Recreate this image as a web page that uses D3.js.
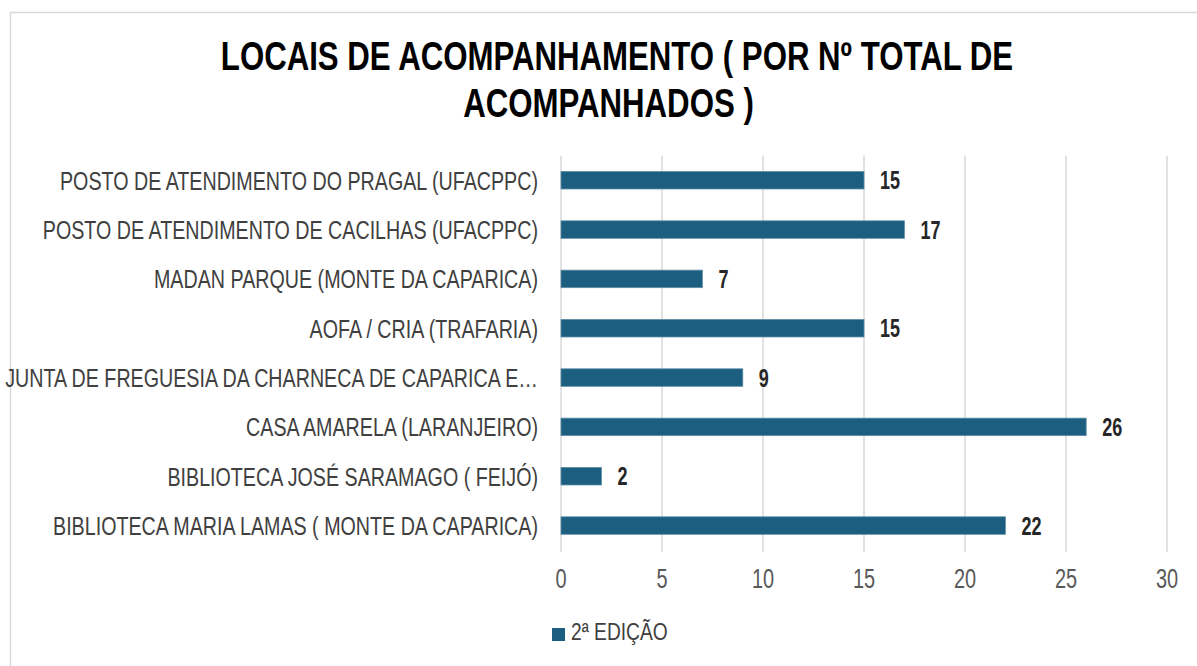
<!DOCTYPE html>
<html>
<head>
<meta charset="utf-8">
<script src="https://cdn.jsdelivr.net/npm/d3@7"></script>
<style>
  html, body { margin: 0; padding: 0; background: #fff; }
  svg { display: block; font-family: "Liberation Sans", Arial, sans-serif; }
</style>
</head>
<body>
<div id="chart"></div>
<script>

// DATA
var categories = [
    "POSTO DE ATENDIMENTO DO PRAGAL (UFACPPC)",
    "POSTO DE ATENDIMENTO DE CACILHAS (UFACPPC)",
    "MADAN PARQUE (MONTE DA CAPARICA)",
    "AOFA / CRIA (TRAFARIA)",
    "JUNTA DE FREGUESIA DA CHARNECA DE CAPARICA E…",
    "CASA AMARELA (LARANJEIRO)",
    "BIBLIOTECA JOSÉ SARAMAGO ( FEIJÓ)",
    "BIBLIOTECA MARIA LAMAS ( MONTE DA CAPARICA)"
];
var values = [15, 17, 7, 15, 9, 26, 2, 22];
var xTicks = [0, 5, 10, 15, 20, 25, 30];
var titleLines = ["LOCAIS DE ACOMPANHAMENTO ( POR Nº TOTAL DE", "ACOMPANHADOS )"];
var seriesName = "2ª EDIÇÃO";

// SIZES
var width = 1197, height = 666;
var plot = {left: 561, right: 1167, top: 155.7, bottom: 550.1};
var barColor = "#1b5e80";
var titleX = [617, 608.5];

var svg = d3.select("#chart").append("svg")
    .attr("width", width)
    .attr("height", height);

// chart frame (runs off the right and bottom edge)
svg.append("rect")
    .attr("x", 10.5).attr("y", 12.5)
    .attr("width", width + 20).attr("height", height + 20)
    .attr("fill", "#fff")
    .attr("stroke", "#d9d9d9")
    .attr("stroke-width", 1.5);

// condensed text: Arial Narrow look by squeezing horizontally
function squeeze(sel, x, y, sx) {
    sel.attr("transform", "translate(" + x + "," + y + ") scale(" + sx + ",1)");
}

/* TITLE */
titleLines.forEach(function(t, i) {
    svg.append("text")
        .attr("text-anchor", "middle")
        .attr("font-size", 40)
        .attr("font-weight", "bold")
        .attr("fill", "#000")
        .text(t)
        .call(squeeze, titleX[i], 70 + i * 47, 0.78);
});

var x = d3.scaleLinear().domain([0, 30]).range([plot.left, plot.right]);
var y = d3.scaleBand().domain(categories)
    .range([plot.top, plot.bottom])
    .paddingInner(0.645)
    .paddingOuter(0.32);

/* GRID */
svg.append("g").selectAll("line")
    .data(xTicks)
    .enter().append("line")
    .attr("x1", function(d) { return x(d); })
    .attr("x2", function(d) { return x(d); })
    .attr("y1", plot.top)
    .attr("y2", plot.bottom + 2)
    .attr("stroke", "#d9d9d9")
    .attr("stroke-width", 1.5);

/* X AXIS LABELS */
svg.append("g").selectAll("text")
    .data(xTicks)
    .enter().append("text")
    .attr("text-anchor", "middle")
    .attr("font-size", 27)
    .attr("fill", "#595959")
    .text(function(d) { return d; })
    .each(function(d) { d3.select(this).call(squeeze, x(d), 588, 0.74); });

/* CATEGORY LABELS */
svg.append("g").selectAll("text")
    .data(categories)
    .enter().append("text")
    .attr("text-anchor", "end")
    .attr("font-size", 26)
    .attr("fill", "#404040")
    .text(function(d) { return d; })
    .each(function(d) { d3.select(this).call(squeeze, 538, y(d) + y.bandwidth() / 2 + 9.5, 0.757); });

/* BARS */
svg.append("g").selectAll("rect")
    .data(values)
    .enter().append("rect")
    .attr("x", x(0))
    .attr("y", function(d, i) { return y(categories[i]); })
    .attr("width", function(d) { return x(d) - x(0); })
    .attr("height", y.bandwidth())
    .attr("fill", barColor)
    .attr("stroke", "#5f8ea6")
    .attr("stroke-width", 0.8);

/* VALUE LABELS */
svg.append("g").selectAll("text")
    .data(values)
    .enter().append("text")
    .attr("text-anchor", "start")
    .attr("font-size", 25)
    .attr("font-weight", "bold")
    .attr("fill", "#262626")
    .text(function(d) { return d; })
    .each(function(d, i) {
        d3.select(this).call(squeeze, x(d) + 16, y(categories[i]) + y.bandwidth() / 2 + 9, 0.72);
    });

/* LEGEND */
var legend = svg.append("g");
legend.append("rect")
    .attr("x", 552).attr("y", 628)
    .attr("width", 13).attr("height", 13)
    .attr("fill", barColor);
legend.append("text")
    .attr("font-size", 24)
    .attr("fill", "#404040")
    .text(seriesName)
    .call(squeeze, 571, 640, 0.8);

</script>
</body>
</html>
